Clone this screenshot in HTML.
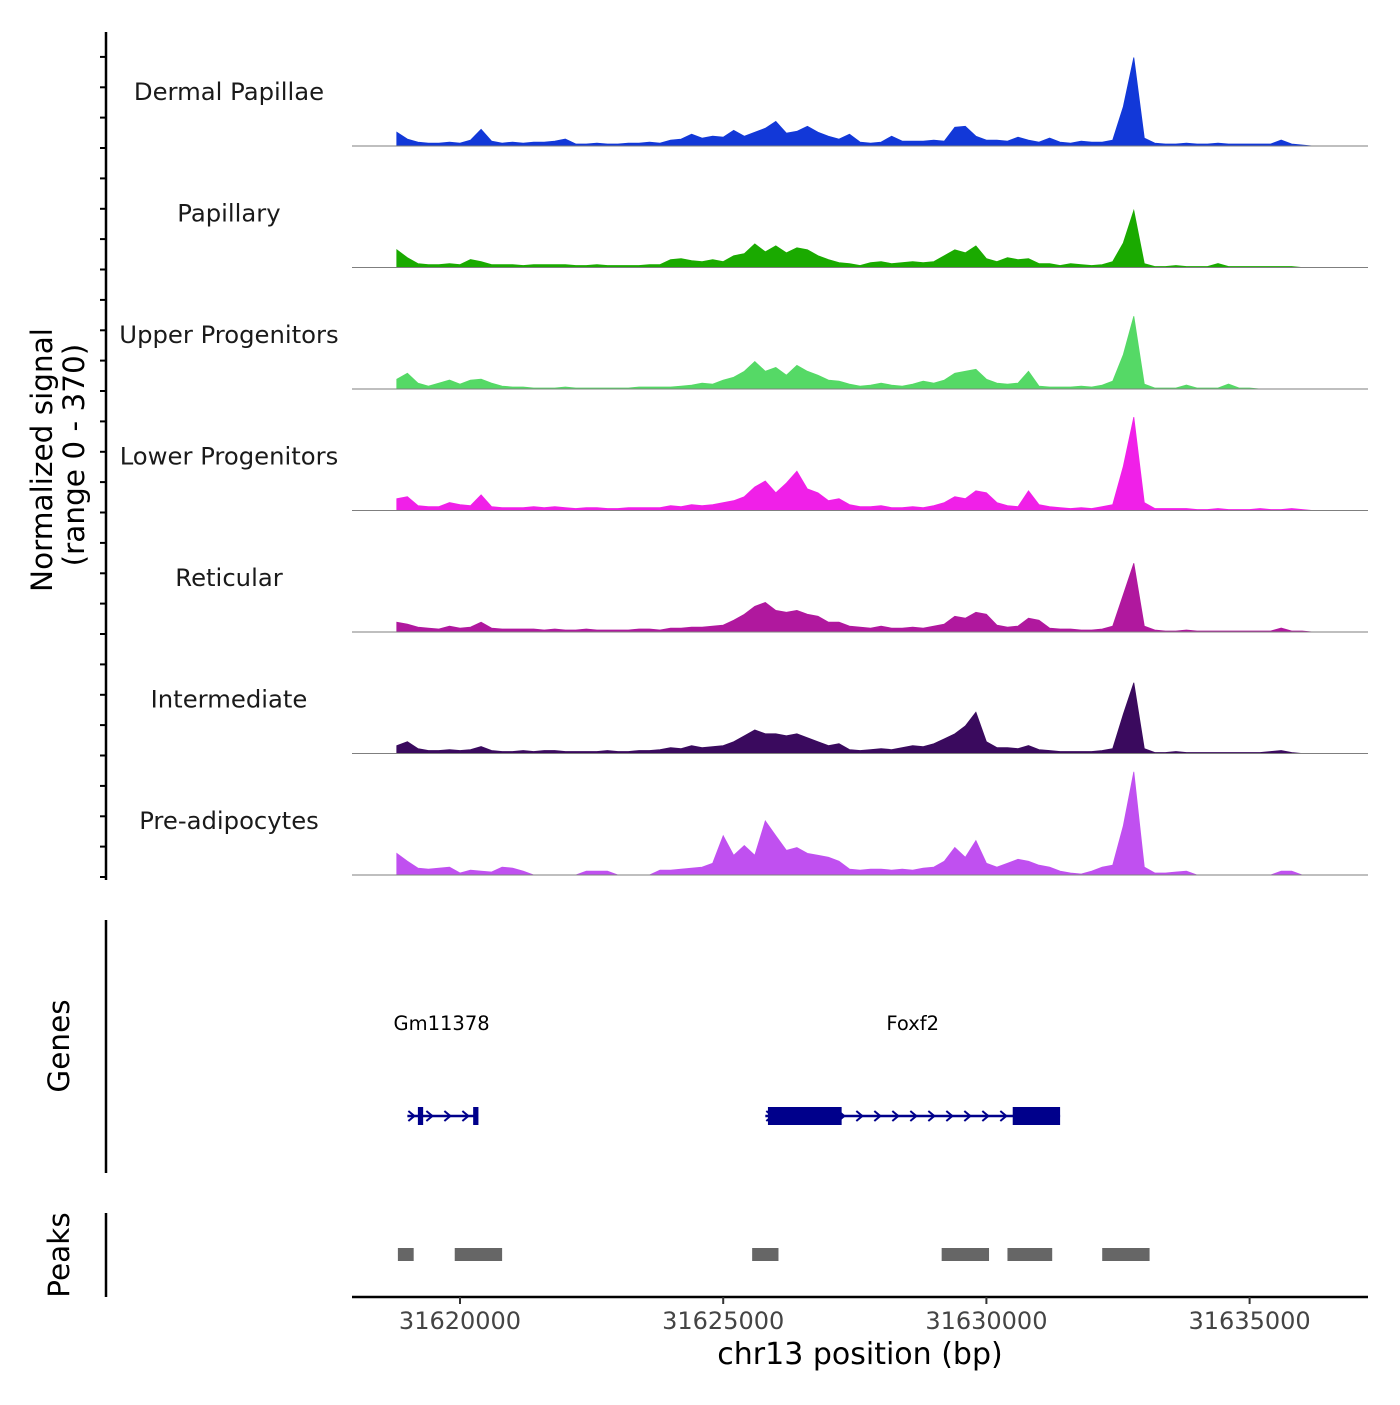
<!DOCTYPE html>
<html><head><meta charset="utf-8"><style>
html,body{margin:0;padding:0;background:#fff;}
svg text{font-family:"DejaVu Sans","Liberation Sans",sans-serif;}
</style></head><body>
<svg id="chart" width="1400" height="1400" viewBox="0 0 1400 1400" xmlns="http://www.w3.org/2000/svg">
<rect width="1400" height="1400" fill="#fff"/>
<g id="tracks"></g>
<line x1="106" y1="32" x2="106" y2="880" stroke="#000" stroke-width="2.5"/>
<g id="yticks"></g>
<text transform="translate(52,460) rotate(-90)" text-anchor="middle" font-size="29.5" fill="#000">Normalized signal</text>
<text transform="translate(84,455) rotate(-90)" text-anchor="middle" font-size="29.5" fill="#000">(range 0 - 370)</text>
<line x1="106" y1="920" x2="106" y2="1173" stroke="#000" stroke-width="2.5"/>
<text transform="translate(69,1046) rotate(-90)" text-anchor="middle" font-size="29.5" fill="#000">Genes</text>
<line x1="106" y1="1213" x2="106" y2="1297" stroke="#000" stroke-width="2.5"/>
<text transform="translate(69,1255) rotate(-90)" text-anchor="middle" font-size="29.5" fill="#000">Peaks</text>
<g id="genes"></g>
<g id="peaks"></g>
<line x1="352" y1="1297" x2="1368" y2="1297" stroke="#000" stroke-width="2.5"/>
<g id="xticks"></g>
<text x="860" y="1364" text-anchor="middle" font-size="30" fill="#000">chr13 position (bp)</text>
</svg>
<script>
const trackNames = ["Dermal Papillae","Papillary","Upper Progenitors","Lower Progenitors","Reticular","Intermediate","Pre-adipocytes"];
const trackColors = ["#1238d8","#1aaa00","#55d966","#f020e8","#b0189e","#3a0a5e","#c050f0"];
const binStart = 31618800;
const binSize = 200;
const yMax = 120;
const sigDermal = [14,7,4,3,3,4,3,6,17,5,3,4,3,4,4,5,7,2,2,3,2,2,3,3,4,3,6,7,12,8,10,9,16,10,14,18,25,13,15,20,14,10,7,12,4,3,4,10,5,5,5,6,5,19,20,10,6,6,5,9,6,4,8,4,3,5,4,4,6,40,90,8,3,2,2,3,2,2,3,2,2,2,2,2,6,2,1,0];
const sigPapillary = [18,10,4,3,3,4,3,8,6,3,3,3,2,3,3,3,3,2,2,3,2,2,2,2,3,3,8,9,7,6,8,6,12,14,24,16,22,15,20,18,12,8,5,4,2,5,6,4,5,6,5,6,12,18,15,22,9,6,10,8,9,4,4,2,4,3,2,3,6,25,58,4,1,1,2,1,1,1,4,1,1,1,1,1,1,1,0,0];
const sigUpper = [10,16,6,3,6,9,5,9,10,6,3,2,2,1,1,1,2,1,1,1,1,1,1,2,2,2,2,3,4,6,5,9,12,18,28,18,22,14,24,18,14,9,8,5,3,4,6,4,3,5,8,6,9,16,18,20,10,6,5,6,18,3,2,2,2,3,2,4,8,35,74,5,1,1,1,4,1,1,1,5,1,1,0,0,0,0,0,0];
const sigLower = [12,14,5,4,4,8,6,5,16,4,3,3,3,4,3,4,3,2,3,3,2,2,3,3,3,3,5,4,6,5,6,8,10,14,24,30,18,28,40,22,18,10,12,6,4,4,5,3,3,4,3,5,8,14,12,20,18,8,5,4,20,6,4,3,2,3,2,4,6,45,95,8,2,2,2,2,1,1,2,1,1,1,2,1,1,2,1,0];
const sigReticular = [10,8,5,4,3,6,4,5,10,4,3,3,3,3,2,3,2,2,3,2,2,2,2,3,3,2,4,4,5,5,6,7,12,18,26,30,22,20,22,18,16,10,10,6,5,4,6,4,4,5,4,6,8,16,14,20,18,7,5,6,14,12,4,3,3,2,2,3,6,38,70,6,2,1,1,2,1,1,1,1,1,1,1,1,4,1,1,0];
const sigIntermediate = [8,12,5,3,3,4,3,4,7,3,2,2,3,2,3,3,2,2,2,2,3,2,2,3,3,4,6,5,8,6,7,8,12,18,24,20,20,18,20,16,12,8,10,4,3,4,5,4,6,8,7,10,15,20,28,42,12,6,6,5,8,4,3,2,2,2,2,3,5,40,72,5,1,1,2,1,1,1,1,1,1,1,1,2,3,1,0,0];
const sigPreadipo = [22,14,7,6,7,8,2,5,4,3,8,7,4,0,0,0,0,0,4,4,4,0,0,0,0,5,5,6,7,8,12,40,20,30,20,55,40,25,28,22,20,18,14,6,5,6,6,5,6,5,7,8,14,28,18,35,12,8,12,16,14,10,8,4,2,1,4,8,10,50,105,8,2,2,3,4,0,0,0,0,0,0,0,0,4,4,0,0];
const allSignals = [sigDermal,sigPapillary,sigUpper,sigLower,sigReticular,sigIntermediate,sigPreadipo];
const xTicks = [31620000,31625000,31630000,31635000];
const geneNames = ["Gm11378","Foxf2"];
const geneStarts = [31619000,31625800];
const geneEnds = [31620300,31631400];
const exonStarts = [31619200,31620250,31625850,31630500];
const exonEnds = [31619300,31620350,31627250,31631400];
const peakStarts = [31618820,31619900,31625550,31629150,31630400,31632200];
const peakEnds = [31619120,31620800,31626050,31630050,31631250,31633100];

const NS="http://www.w3.org/2000/svg";
function mk(tag,attrs,parent){const e=document.createElementNS(NS,tag);for(const k in attrs)e.setAttribute(k,attrs[k]);parent.appendChild(e);return e;}
function xScale(bp){return 460+(bp-31620000)*(263.2/5000);}
const trackH=121.5, firstBase=146, trackPx=118;
function yScale(v,t){return firstBase+t*trackH - v/yMax*trackPx;}

const tracks=document.getElementById('tracks');
allSignals.forEach((sig,t)=>{
  const base=yScale(0,t);
  const g=mk('g',{},tracks);
  
  
  let d='M'+xScale(binStart).toFixed(1)+','+base;
  sig.forEach((v,i)=>{d+=' L'+xScale(binStart+i*binSize).toFixed(1)+','+yScale(v,t).toFixed(1);});
  d+=' L'+xScale(binStart+(sig.length-1)*binSize).toFixed(1)+','+base+' Z';
  const p=mk('path',{d:d,fill:trackColors[t],stroke:trackColors[t],'stroke-width':'0.8'},g);
  
  
  const bl=mk('line',{x1:352,x2:1368,y1:base,y2:base,stroke:'#7f7f7f','stroke-width':'1'},g);
  
  
  const lb=mk('text',{x:229,y:base-46,'text-anchor':'middle','font-size':'24.3',fill:'#1a1a1a'},g);
  
  
  lb.textContent=trackNames[t];
});

const yt=document.getElementById('yticks');
for(let y=877;y>=50;y-=trackH/4){
  const l=mk('line',{x1:100,x2:106,y1:y.toFixed(1),y2:y.toFixed(1),stroke:'#000','stroke-width':'2'},yt);
  
  
}

const xt=document.getElementById('xticks');
xTicks.forEach(v=>{
  const x=xScale(v);
  const l=mk('line',{x1:x,x2:x,y1:1297,y2:1304,stroke:'#333','stroke-width':'2'},xt);
  
  
  const tx=mk('text',{x:x,y:1329,'text-anchor':'middle','font-size':'24',fill:'#444'},xt);
  
  
  tx.textContent=v;
});

const gg=document.getElementById('genes');
const gy=1116, gc='#00008b';
geneNames.forEach((n,i)=>{
  const g=mk('g',{},gg);
  
  
  const x1=xScale(geneStarts[i]), x2=xScale(geneEnds[i]);
  const tx=mk('text',{x:(x1+x2)/2,y:1030,'text-anchor':'middle','font-size':'19.5',fill:'#000'},g);
  
  
  tx.textContent=n;
  const ln=mk('line',{x1:x1,x2:x2,y1:gy,y2:gy,stroke:gc,'stroke-width':'2.5'},g);
  
  
  for(let x=x1+4;x<x2-6;x+=18){
    const c=mk('path',{d:`M${x-3},${gy-5} L${x+3},${gy} L${x-3},${gy+5}`,fill:'none',stroke:gc,'stroke-width':'2'},g);
    
    
  }
  [2*i,2*i+1].forEach(k=>{
    const ex=xScale(exonStarts[k]), ew=Math.max(4,xScale(exonEnds[k])-ex);
    const r=mk('rect',{x:ex,y:gy-9,width:ew,height:18,fill:gc},g);
    
    
  });
});

const pg=document.getElementById('peaks');
peakStarts.forEach((s,i)=>{
  const x=xScale(s);
  const r=mk('rect',{x:x,y:1248,width:xScale(peakEnds[i])-x,height:13,fill:'#666'},pg);
  
  
});
</script>
</body></html>
